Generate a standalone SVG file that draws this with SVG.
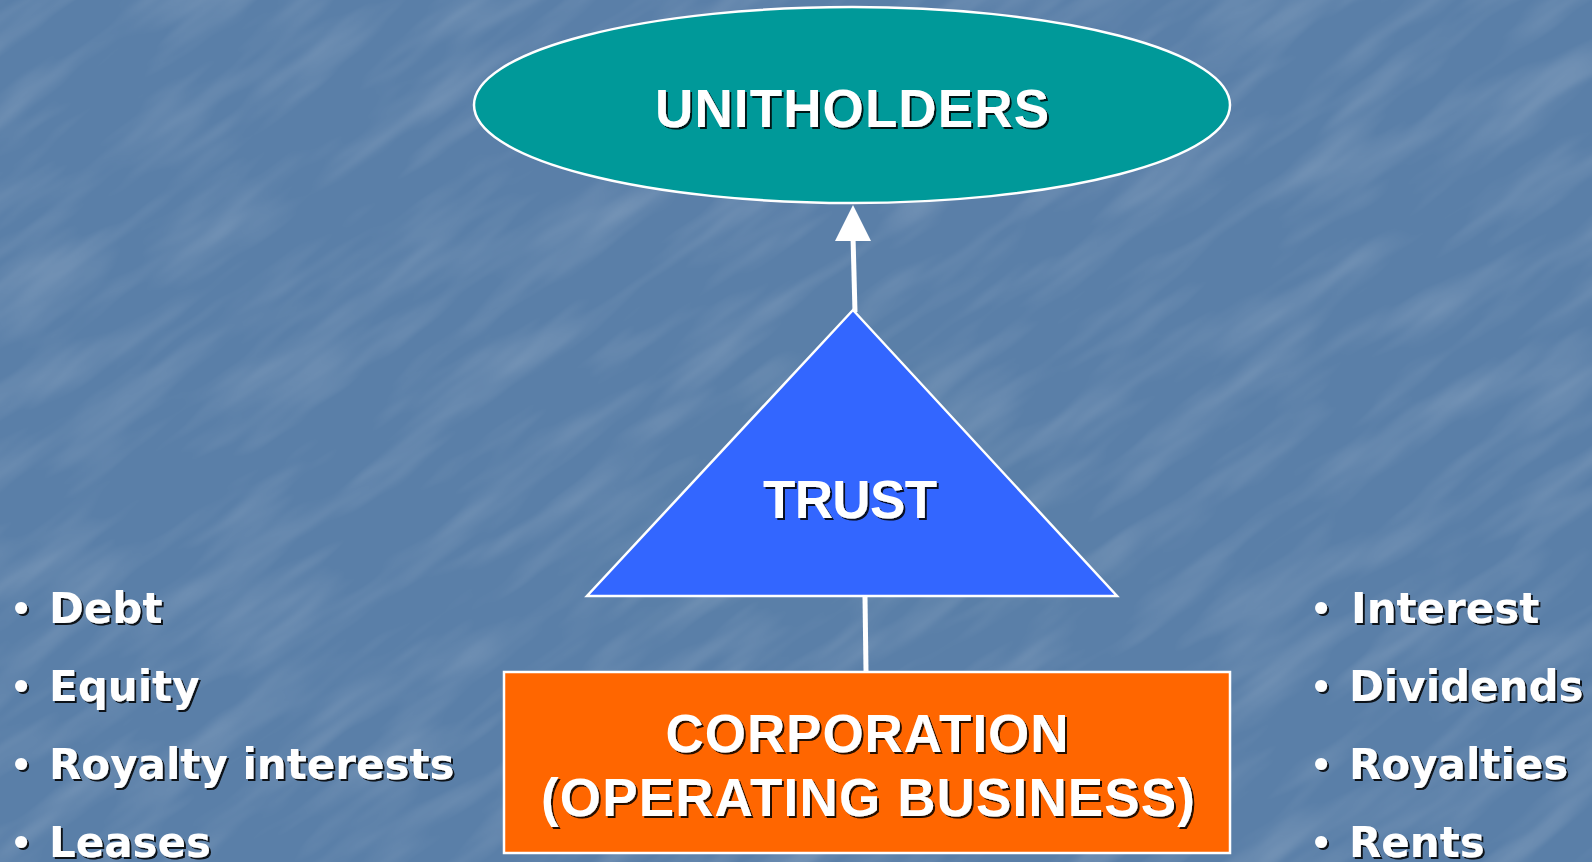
<svg xmlns="http://www.w3.org/2000/svg" width="1592" height="862" viewBox="0 0 1592 862">
  <defs>
    <filter id="shadow" x="-10%" y="-20%" width="120%" height="140%">
      <feDropShadow dx="2" dy="2" stdDeviation="0.6" flood-color="#000" flood-opacity="0.85"/>
    </filter>
    <filter id="tex" x="0" y="0" width="100%" height="100%">
      <feTurbulence type="fractalNoise" baseFrequency="0.006 0.03" numOctaves="3" seed="7" result="n"/>
      <feColorMatrix in="n" type="matrix" values="0 0 0 0 1  0 0 0 0 1  0 0 0 0 1  0 0 0 1.4 -0.6" result="w"/>
      <feComposite in="w" in2="SourceGraphic" operator="in"/>
    </filter>
    <style>
      .bg { fill: #5a7fa8; }
      .node-stroke { stroke: #fff; stroke-width: 2.5; }
      .title { font-family: "Liberation Sans", Arial, sans-serif; font-weight: bold; font-size: 53px; fill: #fff; text-anchor: middle; filter: url(#shadow); }
      .bul { font-family: "DejaVu Sans", Verdana, sans-serif; font-weight: bold; font-size: 42px; fill: #fff; filter: url(#shadow); }
      .dot { font-family: "DejaVu Sans", Verdana, sans-serif; font-weight: bold; font-size: 34px; fill: #fff; text-anchor: middle; filter: url(#shadow); }
      .conn { stroke: #fff; stroke-width: 5; fill: none; }
      .head { fill: #fff; }
    </style>
  </defs>

  <rect class="bg" x="0" y="0" width="1592" height="862"/>
  <g transform="rotate(-35 796 431)">
    <rect x="-600" y="-700" width="2800" height="2300" fill="#5a7fa8" filter="url(#tex)" opacity="0.22"/>
  </g>

  <g id="connectors">
    <line class="conn" x1="855" y1="312" x2="853" y2="236"/>
    <polygon class="head" points="853,205 871,241 835,241"/>
    <line class="conn" x1="865" y1="597" x2="866" y2="671"/>
  </g>

  <g id="unitholders">
    <ellipse class="node-stroke" cx="852" cy="105" rx="378" ry="98" fill="#009999"/>
    <text class="title" x="852" y="127" textLength="394" lengthAdjust="spacing">UNITHOLDERS</text>
  </g>

  <g id="trust">
    <polygon class="node-stroke" points="853,310 1117,596 587,596" fill="#3366ff"/>
    <text class="title" x="850" y="518" textLength="174" lengthAdjust="spacing">TRUST</text>
  </g>

  <g id="corporation">
    <rect class="node-stroke" x="504" y="672" width="726" height="181" fill="#ff6600"/>
    <text class="title" x="867" y="752" textLength="403" lengthAdjust="spacing">CORPORATION</text>
    <text class="title" x="868" y="816" textLength="654" lengthAdjust="spacing">(OPERATING BUSINESS)</text>
  </g>

  <g id="left-list">
    <text class="dot" x="21" y="621">•</text>
    <text class="bul" x="49" y="623">Debt</text>
    <text class="dot" x="21" y="699">•</text>
    <text class="bul" x="49" y="701">Equity</text>
    <text class="dot" x="21" y="777">•</text>
    <text class="bul" x="49" y="779">Royalty interests</text>
    <text class="dot" x="21" y="855">•</text>
    <text class="bul" x="49" y="857">Leases</text>
  </g>

  <g id="right-list">
    <text class="dot" x="1321" y="621">•</text>
    <text class="bul" x="1351" y="623">Interest</text>
    <text class="dot" x="1321" y="699">•</text>
    <text class="bul" x="1349" y="701">Dividends</text>
    <text class="dot" x="1321" y="777">•</text>
    <text class="bul" x="1349" y="779">Royalties</text>
    <text class="dot" x="1321" y="855">•</text>
    <text class="bul" x="1349" y="857">Rents</text>
  </g>
</svg>
